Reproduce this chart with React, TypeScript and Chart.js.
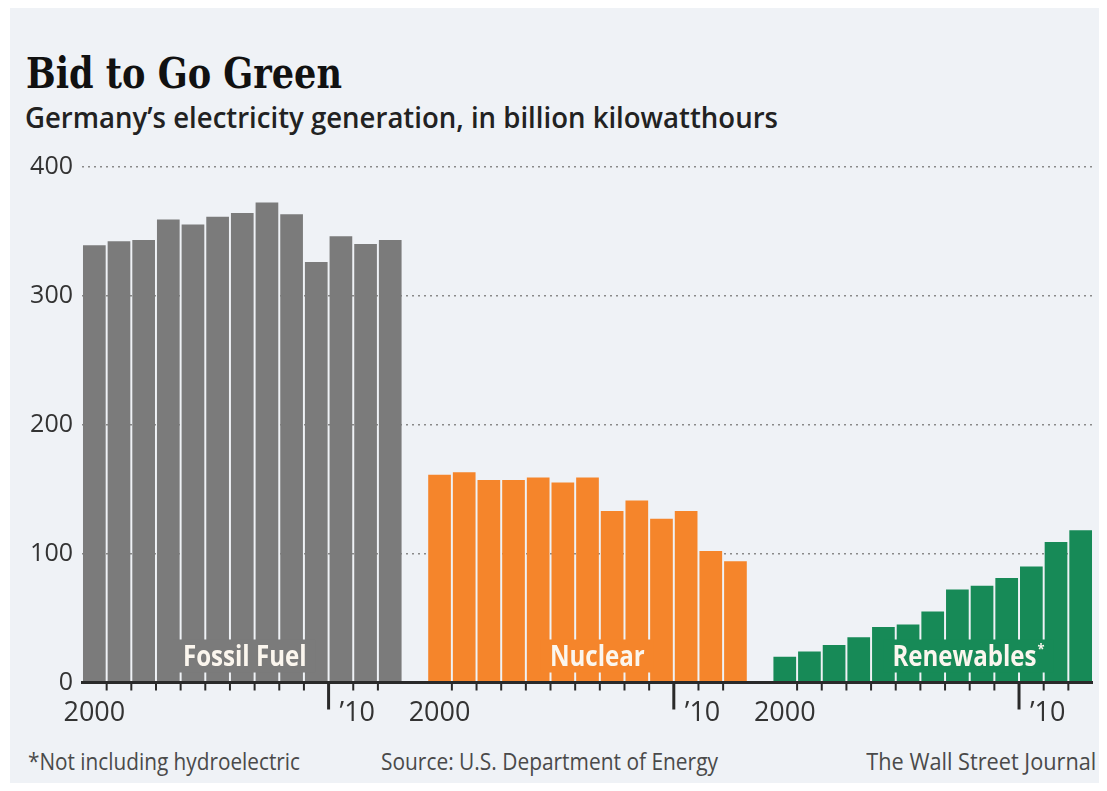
import React, { useEffect, useLayoutEffect, useRef } from 'react';
import { Chart, registerables } from 'chart.js';

Chart.register(...registerables);

// ---------- data ----------
const years = [2000, 2001, 2002, 2003, 2004, 2005, 2006, 2007, 2008, 2009, 2010, 2011, 2012];
const fossil = [339, 342, 343, 359, 355, 361, 364, 372, 363, 326, 346, 340, 343];
const nuclear = [161, 163, 157, 157, 159, 155, 159, 133, 141, 127, 133, 102, 94];
const renewables = [20, 24, 29, 35, 43, 45, 55, 72, 75, 81, 90, 109, 118];
const seriesNames = ['Fossil Fuel', 'Nuclear', 'Renewables'];
const seriesColors = ['#7b7b7b', '#f5852b', '#178a57'];
const yTicks = [0, 100, 200, 300, 400];
const firstYearLabel = '2000';
const majorYear = 2010;
const majorYearLabel = '\u201910';

const titleText = 'Bid to Go Green';
const subtitleText = 'Germany\u2019s electricity generation, in billion kilowatthours';
const noteText = '*Not including hydroelectric';
const sourceText = 'Source: U.S. Department of Energy';
const creditText = 'The Wall Street Journal';

// ---------- derived tables ----------
const groupSize = years.length + 1; // 13 bars + 1 empty slot
const allSeries = [fossil, nuclear, renewables];
const categories: string[] = [];
allSeries.forEach((_, g) => {
  years.forEach((yr) => categories.push(String(yr)));
  if (g < allSeries.length - 1) categories.push('');
});
const slot = (g: number, i: number) => g * groupSize + i;
const datasets = allSeries.map((vals, g) => {
  const data: (number | null)[] = categories.map(() => null);
  vals.forEach((v, i) => {
    data[slot(g, i)] = v;
  });
  return {
    label: seriesNames[g],
    data,
    backgroundColor: seriesColors[g],
    borderWidth: 0,
    barPercentage: 0.92,
    categoryPercentage: 1,
  };
});

const FONT = '"Open Sans", "Noto Sans", sans-serif';

// label centre (in category units, relative to group start)
const labelCenters = [6.1, 6.4, 7.45];

const decorPlugin = {
  id: 'decor',
  afterDatasetsDraw(chart: any) {
    const { ctx, chartArea, scales } = chart;
    const x = scales.x;
    const y = scales.y;
    const y0 = y.getPixelForValue(0);
    const n = years.length;
    ctx.save();

    // group labels with colored box
    seriesNames.forEach((name, g) => {
      const cx = x.getPixelForValue(slot(g, 0) + labelCenters[g]);
      const sx = 0.86;
      ctx.font = `700 28px ${FONT}`;
      const wMain = ctx.measureText(name).width * sx;
      const star = g === 2 ? '*' : '';
      ctx.font = `700 15px ${FONT}`;
      const wStar = star ? ctx.measureText(star).width * sx + 1 : 0;
      const total = wMain + wStar;
      const left = cx - total / 2;
      const base = y0 - 17;
      ctx.fillStyle = seriesColors[g];
      ctx.fillRect(left - 9, y0 - 43, total + 18, 33);
      ctx.fillStyle = '#fbf6ee';
      ctx.textAlign = 'left';
      ctx.textBaseline = 'alphabetic';
      ctx.save();
      ctx.translate(left, base);
      ctx.scale(sx, 1);
      ctx.font = `700 28px ${FONT}`;
      ctx.fillText(name, 0, 0);
      ctx.restore();
      if (star) {
        ctx.save();
        ctx.translate(left + wMain + 1, base - 12);
        ctx.scale(sx, 1);
        ctx.font = `700 15px ${FONT}`;
        ctx.fillText(star, 0, 0);
        ctx.restore();
      }
    });

    // baseline
    ctx.strokeStyle = '#2a2a2a';
    ctx.lineWidth = 3;
    ctx.beginPath();
    ctx.moveTo(chartArea.left - 1, y0);
    ctx.lineTo(chartArea.right, y0);
    ctx.stroke();

    // ticks + labels
    ctx.fillStyle = '#333';
    ctx.strokeStyle = '#2a2a2a';
    for (let g = 0; g < seriesNames.length; g++) {
      for (let i = 0; i < n - 1; i++) {
        const xb = (x.getPixelForValue(slot(g, i)) + x.getPixelForValue(slot(g, i + 1))) / 2;
        const major = years[i + 1] === majorYear;
        ctx.lineWidth = major ? 3 : 2;
        ctx.beginPath();
        ctx.moveTo(xb, y0);
        ctx.lineTo(xb, y0 + (major ? 27 : 8));
        ctx.stroke();
        if (major) {
          ctx.font = `400 27px ${FONT}`;
          ctx.textAlign = 'left';
          ctx.textBaseline = 'alphabetic';
          ctx.fillText(majorYearLabel, xb + 11, y0 + 38);
        }
      }
      ctx.font = `400 27px ${FONT}`;
      ctx.textAlign = 'center';
      ctx.textBaseline = 'alphabetic';
      ctx.fillText(firstYearLabel, x.getPixelForValue(slot(g, 0)), y0 + 38);
    }
    ctx.restore();
  },
};

function FitText(props: {
  text: string;
  top: number;
  left?: number;
  right?: number;
  width: number;
  size: number;
  weight: number;
  family: string;
  color: string;
  stretch?: string;
}) {
  const ref = useRef<HTMLSpanElement>(null);
  useLayoutEffect(() => {
    const fit = () => {
      const el = ref.current;
      if (!el) return;
      el.style.transform = 'none';
      const natural = el.getBoundingClientRect().width;
      if (natural > 0) el.style.transform = `scaleX(${props.width / natural})`;
    };
    fit();
    if ((document as any).fonts && (document as any).fonts.ready) {
      (document as any).fonts.ready.then(fit);
    }
  });
  const style: React.CSSProperties = {
    position: 'absolute',
    top: props.top,
    whiteSpace: 'nowrap',
    display: 'inline-block',
    fontFamily: props.family,
    fontSize: props.size,
    fontWeight: props.weight,
    fontStretch: props.stretch as any,
    lineHeight: `${props.size}px`,
    color: props.color,
    transformOrigin: props.right !== undefined ? 'right top' : 'left top',
  };
  if (props.right !== undefined) style.right = props.right;
  else style.left = props.left;
  return (
    <span ref={ref} style={style}>
      {props.text}
    </span>
  );
}

export default function App() {
  const canvasRef = useRef<HTMLCanvasElement>(null);

  useEffect(() => {
    const canvas = canvasRef.current;
    if (!canvas) return;
    Chart.defaults.font.family = FONT;
    const chart = new Chart(canvas, {
      type: 'bar',
      data: { labels: categories, datasets: datasets as any },
      plugins: [decorPlugin],
      options: {
        responsive: false,
        animation: false,
        devicePixelRatio: 1,
        layout: { padding: { left: 0, right: 7, top: 16.5, bottom: 47.5 } },
        plugins: { legend: { display: false }, tooltip: { enabled: false }, title: { display: false } },
        scales: {
          x: {
            display: false,
            stacked: true,
            offset: true,
          },
          y: {
            min: 0,
            max: 400,
            afterBuildTicks: (s: any) => {
              s.ticks = yTicks.map((v) => ({ value: v }));
            },
            afterFit: (s: any) => {
              s.width = 72;
              s.paddingTop = 0;
              s.paddingBottom = 0;
            },
            ticks: {
              padding: 9,
              color: '#333',
              font: { family: FONT, size: 25, weight: 400 as any },
            },
            grid: {
              drawTicks: false,
              lineWidth: 1.5,
              color: (c: any) => (c.tick && c.tick.value === 0 ? 'rgba(0,0,0,0)' : '#8a8a8a'),
            },
            border: { display: false, dash: [2, 4] },
          },
        },
      },
    });
    return () => chart.destroy();
  }, []);

  return (
    <div
      style={{
        position: 'relative',
        marginLeft: 2,
        width: 1090,
        height: 775,
        background: '#eff2f6',
        overflow: 'hidden',
      }}
    >
      <FitText text={titleText} top={43.5} left={15.7} width={316} size={42.5} weight={700} family='"DejaVu Serif", serif' stretch="condensed" color="#111" />
      <FitText text={subtitleText} top={93.75} left={15} width={753} size={29} weight={600} family={FONT} color="#222" />
      <canvas
        ref={canvasRef}
        width={1090}
        height={580}
        style={{ position: 'absolute', left: 0, top: 142, width: 1090, height: 580 }}
      />
      <FitText text={noteText} top={740.7} left={18} width={272} size={24} weight={400} family={FONT} color="#4a4a4a" />
      <FitText text={sourceText} top={740.7} left={371} width={337} size={24} weight={400} family={FONT} color="#4a4a4a" />
      <FitText text={creditText} top={740.7} right={4} width={230} size={24} weight={400} family={FONT} color="#4a4a4a" />
    </div>
  );
}
